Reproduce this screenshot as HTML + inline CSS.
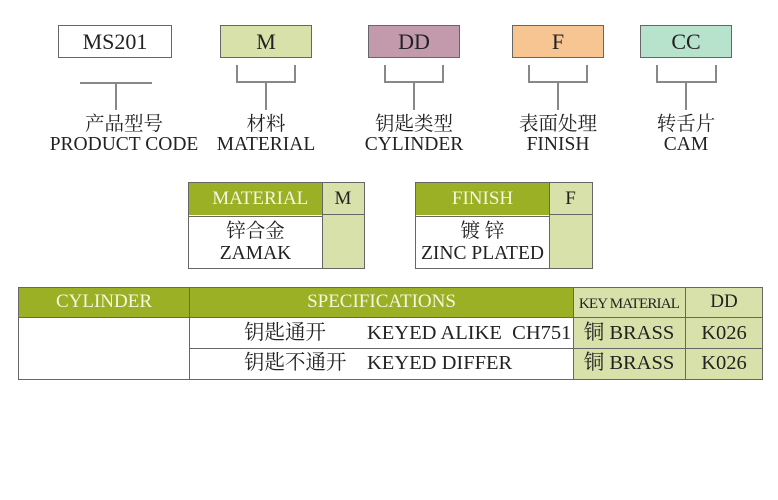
<!DOCTYPE html>
<html><head><meta charset="utf-8"><style>
body{margin:0;width:778px;height:500px;background:#fff;position:relative;overflow:hidden;font-family:"Liberation Serif","Noto Serif CJK SC",serif;color:#222}
.a{position:absolute;box-sizing:border-box}
.box{border:1px solid #666;text-align:center;font-size:22px;line-height:31px;height:33px}
.ln{position:absolute;background:#888}
.lb{position:absolute;text-align:center;width:180px;font-size:19.5px;line-height:20px}
.g{background:#9bb024;color:#f4f6e0}
.lg{background:#d9e1aa}
.c{text-align:center}
.t{font-size:20.5px}
</style></head><body>
<div class="a box" style="left:58px;top:25px;width:114px">MS201</div>
<div class="a box" style="left:220px;top:25px;width:92px;background:#d9e1aa">M</div>
<div class="a box" style="left:368px;top:25px;width:92px;background:#c29aab">DD</div>
<div class="a box" style="left:512px;top:25px;width:92px;background:#f7c592">F</div>
<div class="a box" style="left:640px;top:25px;width:92px;background:#b7e2cb">CC</div>

<div class="ln" style="left:80px;top:82px;width:72px;height:2px"></div>
<div class="ln" style="left:115px;top:82px;width:2px;height:28px"></div>

<div class="ln" style="left:236px;top:65px;width:2px;height:18px"></div><div class="ln" style="left:294px;top:65px;width:2px;height:18px"></div><div class="ln" style="left:236px;top:81px;width:60px;height:2px"></div><div class="ln" style="left:265px;top:82px;width:2px;height:28px"></div>
<div class="ln" style="left:384px;top:65px;width:2px;height:18px"></div><div class="ln" style="left:442px;top:65px;width:2px;height:18px"></div><div class="ln" style="left:384px;top:81px;width:60px;height:2px"></div><div class="ln" style="left:413px;top:82px;width:2px;height:28px"></div>
<div class="ln" style="left:528px;top:65px;width:2px;height:18px"></div><div class="ln" style="left:586px;top:65px;width:2px;height:18px"></div><div class="ln" style="left:528px;top:81px;width:60px;height:2px"></div><div class="ln" style="left:557px;top:82px;width:2px;height:28px"></div>
<div class="ln" style="left:656px;top:65px;width:2px;height:18px"></div><div class="ln" style="left:715px;top:65px;width:2px;height:18px"></div><div class="ln" style="left:656px;top:81px;width:61px;height:2px"></div><div class="ln" style="left:685px;top:82px;width:2px;height:28px"></div>

<div class="lb" style="left:34px;top:115px">产品型号<br>PRODUCT CODE</div>
<div class="lb" style="left:176px;top:115px">材料<br>MATERIAL</div>
<div class="lb" style="left:324px;top:115px">钥匙类型<br>CYLINDER</div>
<div class="lb" style="left:468px;top:115px">表面处理<br>FINISH</div>
<div class="lb" style="left:596px;top:115px">转舌片<br>CAM</div>

<div class="a" style="left:188px;top:182px;width:177px;height:87px;border:1px solid #666"></div>
<div class="a g c" style="left:189px;top:183px;width:133px;height:32px;font-size:19px;line-height:32px">&nbsp;&nbsp;MATERIAL</div>
<div class="a lg c" style="left:322px;top:183px;width:42px;height:85px;border-left:1px solid #666"></div>
<div class="a c" style="left:322px;top:183px;width:42px;height:32px;border-bottom:1px solid #666;font-size:19px;line-height:32px">M</div>
<div class="a c" style="left:189px;top:216px;width:133px;height:1px;background:#666"></div>
<div class="a c" style="left:189px;top:221px;width:133px;font-size:19.5px;line-height:22px">锌合金<br>ZAMAK</div>

<div class="a" style="left:415px;top:182px;width:178px;height:87px;border:1px solid #666"></div>
<div class="a g c" style="left:416px;top:183px;width:133px;height:32px;font-size:19px;line-height:32px">FINISH</div>
<div class="a lg" style="left:549px;top:183px;width:43px;height:85px;border-left:1px solid #666"></div>
<div class="a c" style="left:549px;top:183px;width:43px;height:32px;border-bottom:1px solid #666;font-size:19px;line-height:32px">F</div>
<div class="a" style="left:416px;top:216px;width:133px;height:1px;background:#666"></div>
<div class="a c" style="left:416px;top:221px;width:133px;font-size:19.5px;line-height:22px;white-space:nowrap">镀 锌<br>ZINC PLATED</div>

<div class="a" style="left:18px;top:287px;width:745px;height:93px;border:1px solid #666"></div>
<div class="a g c" style="left:19px;top:288px;width:170px;height:30px;font-size:19px;line-height:28px">CYLINDER</div>
<div class="a g c" style="left:189px;top:288px;width:384px;height:30px;font-size:19px;line-height:28px;border-left:1px solid #666">SPECIFICATIONS</div>
<div class="a lg" style="left:573px;top:288px;width:189px;height:91px;border-left:1px solid #666"></div>
<div class="a" style="left:685px;top:288px;width:1px;height:91px;background:#666"></div>
<div class="a c" style="left:573px;top:290px;width:112px;font-size:15px;line-height:28px;letter-spacing:-0.8px">KEY MATERIAL</div>
<div class="a c" style="left:686px;top:288px;width:76px;font-size:19px;line-height:28px">DD</div>
<div class="a" style="left:19px;top:317px;width:743px;height:1px;background:#666"></div>
<div class="a" style="left:189px;top:317px;width:1px;height:62px;background:#666"></div>
<div class="a" style="left:189px;top:348px;width:573px;height:1px;background:#666"></div>
<div class="a t" style="left:244px;top:318px;line-height:30px;white-space:nowrap">钥匙通开</div>
<div class="a t" style="left:367px;top:318px;line-height:30px;white-space:nowrap">KEYED ALIKE&nbsp; CH751</div>
<div class="a t" style="left:244px;top:348px;line-height:30px;white-space:nowrap">钥匙不通开</div>
<div class="a t" style="left:367px;top:348px;line-height:30px;white-space:nowrap">KEYED DIFFER</div>
<div class="a c t" style="left:573px;top:318px;width:112px;line-height:30px">铜 BRASS</div>
<div class="a c t" style="left:573px;top:348px;width:112px;line-height:30px">铜 BRASS</div>
<div class="a c t" style="left:686px;top:318px;width:76px;line-height:30px">K026</div>
<div class="a c t" style="left:686px;top:348px;width:76px;line-height:30px">K026</div>
</body></html>
